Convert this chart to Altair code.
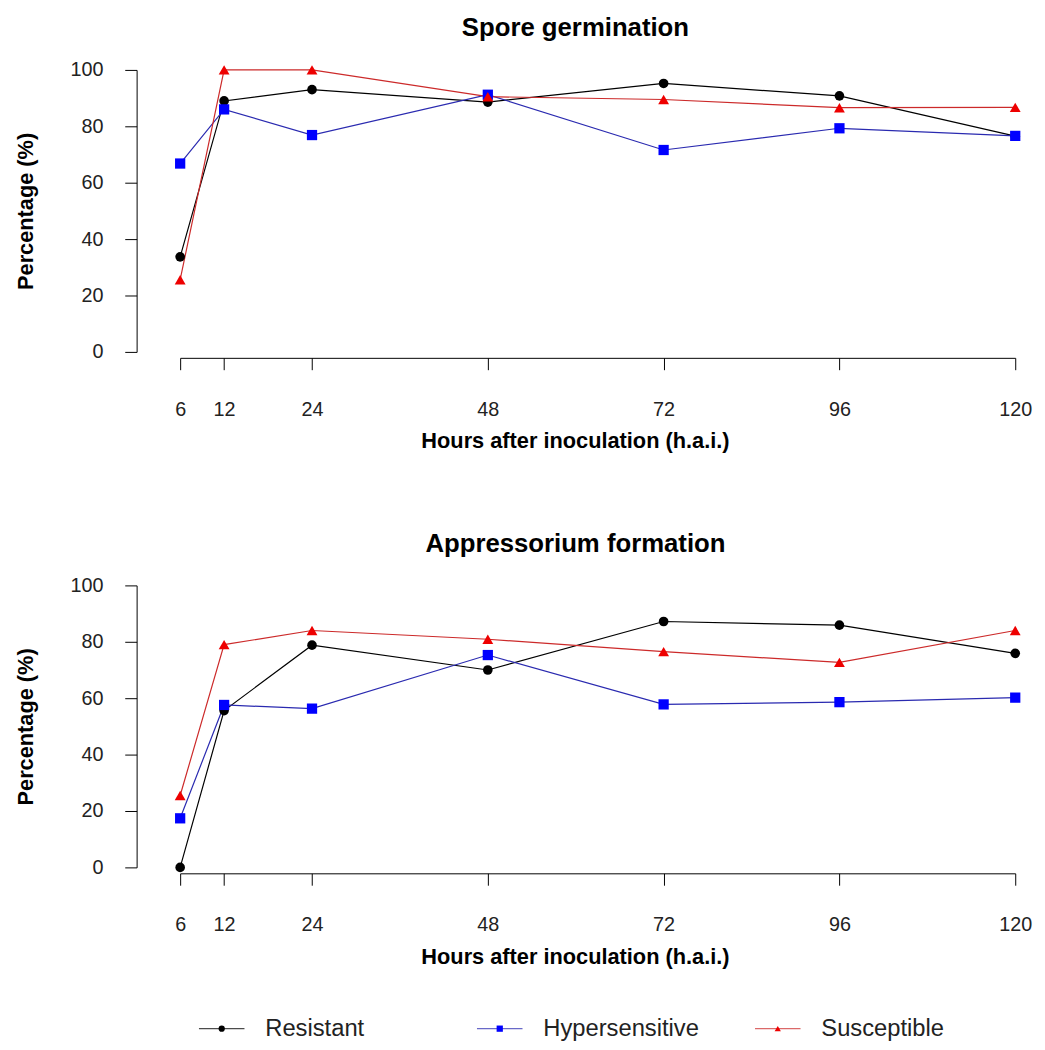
import altair as alt
import pandas as pd

hours = [6, 12, 24, 48, 72, 96, 120]
series = ["Resistant", "Hypersensitive", "Susceptible"]
y_ticks = [0, 20, 40, 60, 80, 100]

spore_resistant = [33.7, 89.0, 93.0, 88.6, 95.2, 90.8, 76.5]
spore_hyper = [66.8, 86.0, 76.9, 91.2, 71.6, 79.3, 76.6]
spore_susceptible = [25.6, 100.0, 100.0, 90.5, 89.5, 86.6, 86.7]

app_resistant = [0.0, 55.6, 78.8, 70.0, 87.2, 85.9, 75.9]
app_hyper = [17.4, 57.6, 56.3, 75.3, 57.8, 58.6, 60.2]
app_susceptible = [25.5, 79.0, 84.0, 80.9, 76.5, 72.7, 84.0]

point_colors = ["#000000", "#0000ff", "#ee0000"]
line_colors = ["#000000", "#2a2ab0", "#cc2a2a"]
shapes = ["circle", "square", "triangle-up"]
sizes = [95, 120, 190]
FONT = "Liberation Sans"


def make_df(r, h, s):
    rows = []
    for name, vals in zip(series, [r, h, s]):
        for t, v in zip(hours, vals):
            rows.append({"hours": t, "value": v, "series": name})
    return pd.DataFrame(rows)


def panel(df, title):
    base = alt.Chart(df)
    x = alt.X(
        "hours:Q",
        scale=alt.Scale(domain=[6, 120], nice=False, zero=False),
        axis=alt.Axis(
            values=hours, title="Hours after inoculation (h.a.i.)", offset=6,
            tickSize=12, labelPadding=30, titleX=399, titleY=74,
            titleAlign="center", titleBaseline="top",
        ),
    )
    y = alt.Y(
        "value:Q",
        scale=alt.Scale(domain=[0, 100], nice=False),
        axis=alt.Axis(
            values=y_ticks, title="Percentage (%)", offset=44, tickSize=12,
            labelPadding=22, titlePadding=33,
        ),
    )
    lines = base.mark_line(strokeWidth=1.2).encode(
        x=x, y=y,
        color=alt.Color("series:N", scale=alt.Scale(domain=series, range=line_colors), legend=None),
    )
    points = base.mark_point(filled=True, opacity=1).encode(
        x=x, y=y,
        color=alt.Color("series:N", scale=alt.Scale(domain=series, range=point_colors), legend=None),
        shape=alt.Shape("series:N", scale=alt.Scale(domain=series, range=shapes), legend=None),
        size=alt.Size("series:N", scale=alt.Scale(domain=series, range=sizes), legend=None),
    )
    return alt.layer(lines, points).resolve_scale(color="independent").properties(
        width=844, height=285,
        title=alt.TitleParams(
            text=title, fontSize=26, font=FONT, fontWeight="bold", color="black",
            anchor="middle", frame="group", dx=-22.5, offset=19,
        ),
    )


top = panel(make_df(spore_resistant, spore_hyper, spore_susceptible), "Spore germination")
bottom = panel(make_df(app_resistant, app_hyper, app_susceptible), "Appressorium formation")

legend_df = pd.DataFrame({"series": series})
lx = alt.X("series:O", scale=alt.Scale(type="point", domain=series, range=[42, 604], padding=0), axis=None)
leg_base = alt.Chart(legend_df)
leg_line = leg_base.mark_tick(orient="horizontal", size=46, thickness=1.2).encode(
    x=lx, color=alt.Color("series:N", scale=alt.Scale(domain=series, range=line_colors), legend=None)
)
leg_pt = leg_base.mark_point(filled=True, opacity=1).encode(
    x=lx,
    color=alt.Color("series:N", scale=alt.Scale(domain=series, range=point_colors), legend=None),
    shape=alt.Shape("series:N", scale=alt.Scale(domain=series, range=shapes), legend=None),
    size=alt.value(40),
)
leg_txt = leg_base.mark_text(align="left", baseline="middle", dx=44, fontSize=24, font=FONT, color="#222222").encode(
    x=lx, text="series:N"
)
legend = alt.layer(leg_line, leg_pt, leg_txt).resolve_scale(color="independent").properties(width=844, height=24)

panels = alt.vconcat(top, bottom, spacing=236, bounds="flush")
chart = alt.vconcat(panels, legend, spacing=50).properties(
    padding={"left": 6, "top": 2, "right": 5, "bottom": 5}
).configure_view(stroke=None).configure_axis(
    grid=False, domainColor="black", tickColor="black", domainWidth=1, tickWidth=1,
    labelFont=FONT, labelFontSize=20, labelColor="#222222", labelFlush=False, labelOverlap=False,
    titleFont=FONT, titleFontSize=22, titleFontWeight="bold", titleColor="black",
)

chart.save("out.html", embed_options={"renderer": "svg", "actions": False})
